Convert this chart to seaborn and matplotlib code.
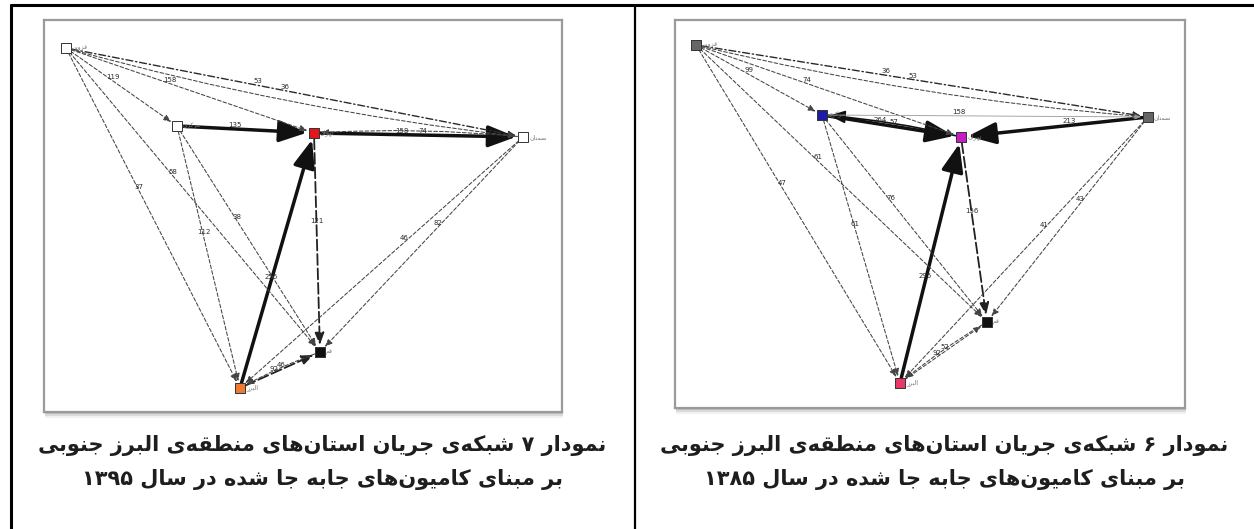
import re
import pandas as pd
import seaborn as sns
import matplotlib
matplotlib.use("Agg")
import matplotlib.pyplot as plt
from matplotlib.patches import Rectangle

# ---------------- data ----------------
node_ids = ["A", "B", "C", "D", "E", "F"]
node_names = ["قزوین", "مرکزی", "تهران", "سمنان", "قم", "البرز"]

# node layout inside each panel (panel pixels, y down)
x_1395 = [22, 133, 270, 479, 276, 196]
y_1395 = [28, 106, 113, 117, 332, 368]
x_1385 = [21, 147, 286, 473, 312, 225]
y_1385 = [25, 95, 117, 97, 302, 363]

colors_1395 = ["#ffffff", "#ffffff", "#e3161b", "#ffffff", "#111111", "#ee7a33"]
colors_1385 = ["#666666", "#1c1ca8", "#c41ec4", "#666666", "#111111", "#e8386a"]

# edges: source, target, label, flow class
src_1395 = ["B", "F", "C", "D", "C", "F", "E", "A", "A", "A", "A", "A", "A", "B", "B", "D", "D"]
dst_1395 = ["C", "C", "D", "C", "E", "E", "F", "C", "D", "B", "E", "F", "D", "F", "E", "F", "E"]
lab_1395 = ["135", "256", "158", "74", "121", "92", "46", "158", "53", "119", "58", "37", "36", "112", "38", "46", "82"]
cls_1395 = ["strong", "strong", "strong", "weak", "medium", "medium", "weak", "weak", "dashdot",
            "weak", "weak", "weak", "weak", "weak", "weak", "weak", "weak"]

src_1385 = ["B", "C", "D", "F", "C", "A", "A", "A", "A", "A", "A", "B", "B", "B", "D", "D", "F", "E"]
dst_1385 = ["C", "B", "C", "C", "E", "B", "C", "D", "E", "F", "D", "D", "E", "F", "E", "F", "E", "F"]
lab_1385 = ["264", "57", "213", "295", "156", "99", "74", "36", "61", "47", "53", "158", "76", "61", "43", "41", "92", "52"]
cls_1385 = ["strong", "back", "strong", "strong", "medium", "weak", "weak", "dashdot", "weak", "weak",
            "weak", "thin", "weak", "weak", "weak", "weak", "weak", "weak"]

caption_1395 = ["نمودار ۷ شبکه‌ی جریان استان‌های منطقه‌ی البرز جنوبی",
                "بر مبنای کامیون‌های جابه جا شده در سال ۱۳۹۵"]
caption_1385 = ["نمودار ۶ شبکه‌ی جریان استان‌های منطقه‌ی البرز جنوبی",
                "بر مبنای کامیون‌های جابه جا شده در سال ۱۳۸۵"]

# ---------------- persian shaping (no reshaper available) ----------------
FORMS = {
    "ا": ("\uFE8D", "\uFE8E", None, None),
    "ب": ("\uFE8F", "\uFE90", "\uFE91", "\uFE92"),
    "ت": ("\uFE95", "\uFE96", "\uFE97", "\uFE98"),
    "ج": ("\uFE9D", "\uFE9E", "\uFE9F", "\uFEA0"),
    "د": ("\uFEA9", "\uFEAA", None, None),
    "ر": ("\uFEAD", "\uFEAE", None, None),
    "ز": ("\uFEAF", "\uFEB0", None, None),
    "س": ("\uFEB1", "\uFEB2", "\uFEB3", "\uFEB4"),
    "ش": ("\uFEB5", "\uFEB6", "\uFEB7", "\uFEB8"),
    "ط": ("\uFEC1", "\uFEC2", "\uFEC3", "\uFEC4"),
    "ق": ("\uFED5", "\uFED6", "\uFED7", "\uFED8"),
    "ل": ("\uFEDD", "\uFEDE", "\uFEDF", "\uFEE0"),
    "م": ("\uFEE1", "\uFEE2", "\uFEE3", "\uFEE4"),
    "ن": ("\uFEE5", "\uFEE6", "\uFEE7", "\uFEE8"),
    "ه": ("\uFEE9", "\uFEEA", "\uFEEB", "\uFEEC"),
    "و": ("\uFEED", "\uFEEE", None, None),
    "ک": ("\uFB8E", "\uFB8F", "\uFB90", "\uFB91"),
    "ی": ("\uFBFC", "\uFBFD", "\uFBFE", "\uFBFF"),
}


def shape(text):
    out = []
    for i, c in enumerate(text):
        if c not in FORMS:
            out.append(c)
            continue
        prev = text[i - 1] if i > 0 else None
        nxt = text[i + 1] if i + 1 < len(text) else None
        jp = prev in FORMS and FORMS[prev][2] is not None
        jn = nxt in FORMS and FORMS[c][2] is not None
        iso, fin, ini, med = FORMS[c]
        out.append(med if (jp and jn) else fin if jp else ini if jn else iso)
    s = "".join(out).replace("\u200c", "")
    tokens = re.findall(r"[0-9\u06F0-\u06F9]+|.", s)
    return "".join(reversed(tokens))


# ---------------- drawing ----------------
STYLE = {
    "strong": dict(lw=2.5, ls="-", color="#111111", head=19),
    "back": dict(lw=1.2, ls="-", color="#111111", head=11),
    "medium": dict(lw=1.3, ls=(0, (6, 2)), color="#222222", head=8),
    "weak": dict(lw=0.75, ls=(0, (3.5, 2)), color="#444444", head=5),
    "dashdot": dict(lw=1.0, ls=(0, (5, 2, 1, 2)), color="#2a2a2a", head=5),
    "thin": dict(lw=0.6, ls="-", color="#999999", head=4),
}


def draw_network(ax, xs, ys, cols, src, dst, labs, cls):
    pos = {n: (x, y) for n, x, y in zip(node_ids, xs, ys)}
    seen = {}
    for s, d, lab, c in zip(src, dst, labs, cls):
        st = STYLE[c]
        key = tuple(sorted((s, d)))
        k = seen.get(key, 0)
        seen[key] = k + 1
        rad = 0.0 if k == 0 else 0.04 * k
        ax.annotate("", xy=pos[d], xytext=pos[s],
                    arrowprops=dict(arrowstyle="-|>,head_length=0.9,head_width=0.35",
                                    mutation_scale=st["head"], lw=st["lw"], ls=st["ls"],
                                    color=st["color"], shrinkA=4, shrinkB=5,
                                    connectionstyle=f"arc3,rad={rad}"), zorder=2)
        t = 0.42 + 0.06 * k
        lx = pos[s][0] + (pos[d][0] - pos[s][0]) * t
        ly = pos[s][1] + (pos[d][1] - pos[s][1]) * t - 4
        ax.text(lx, ly, lab, fontsize=5, color="#2a2a2a", ha="center", va="center", zorder=3)

    df = pd.DataFrame({"node": node_ids, "x": xs, "y": ys})
    sns.scatterplot(data=df, x="x", y="y", hue="node", palette=dict(zip(node_ids, cols)),
                    marker="s", s=42, edgecolor="#333333", linewidth=0.7,
                    legend=False, ax=ax, zorder=5)
    for n, x, y in zip(node_names, xs, ys):
        ax.text(x + 6, y, shape(n), fontsize=4.5, color="#777777", va="center", ha="left", zorder=6)


sns.set_style("white")
plt.rcParams["font.family"] = ["DejaVu Sans"]

W, H = 1254, 529
fig = plt.figure(figsize=(W / 100, H / 100), dpi=100)
bg = fig.add_axes([0, 0, 1, 1])
bg.set_xlim(0, W)
bg.set_ylim(H, 0)
bg.axis("off")

# table lines
bg.plot([11, W], [5, 5], color="black", lw=2.2)
bg.plot([11, 11], [5, H], color="black", lw=2.2)
bg.plot([635, 635], [5, H], color="black", lw=1.6)

panels = [
    (44, 20, 518, 392, x_1395, y_1395, colors_1395, src_1395, dst_1395, lab_1395, cls_1395),
    (675, 20, 510, 388, x_1385, y_1385, colors_1385, src_1385, dst_1385, lab_1385, cls_1385),
]
for (x0, y0, pw, ph, xs, ys, cols, s, d, l, c) in panels:
    # soft shadow
    for off, a in [(6, 0.08), (4, 0.14), (2, 0.2)]:
        bg.add_patch(Rectangle((x0 + 1, y0 + off), pw, ph, color="#555555", alpha=a, lw=0))
    ax = fig.add_axes([x0 / W, 1 - (y0 + ph) / H, pw / W, ph / H])
    ax.set_facecolor("white")
    ax.set_xlim(0, pw)
    ax.set_ylim(ph, 0)
    ax.set_xticks([])
    ax.set_yticks([])
    ax.set_xlabel("")
    ax.set_ylabel("")
    for sp in ax.spines.values():
        sp.set_color("#9a9a9a")
        sp.set_linewidth(1.6)
    draw_network(ax, xs, ys, cols, s, d, l, c)

for cx, cap in [(322, caption_1395), (944, caption_1385)]:
    for yy, line in zip([445, 480], cap):
        bg.text(cx, yy, shape(line), fontsize=15, fontweight="bold", color="#1e1e1e",
                ha="center", va="center")

fig.savefig("out.png", dpi=100)
